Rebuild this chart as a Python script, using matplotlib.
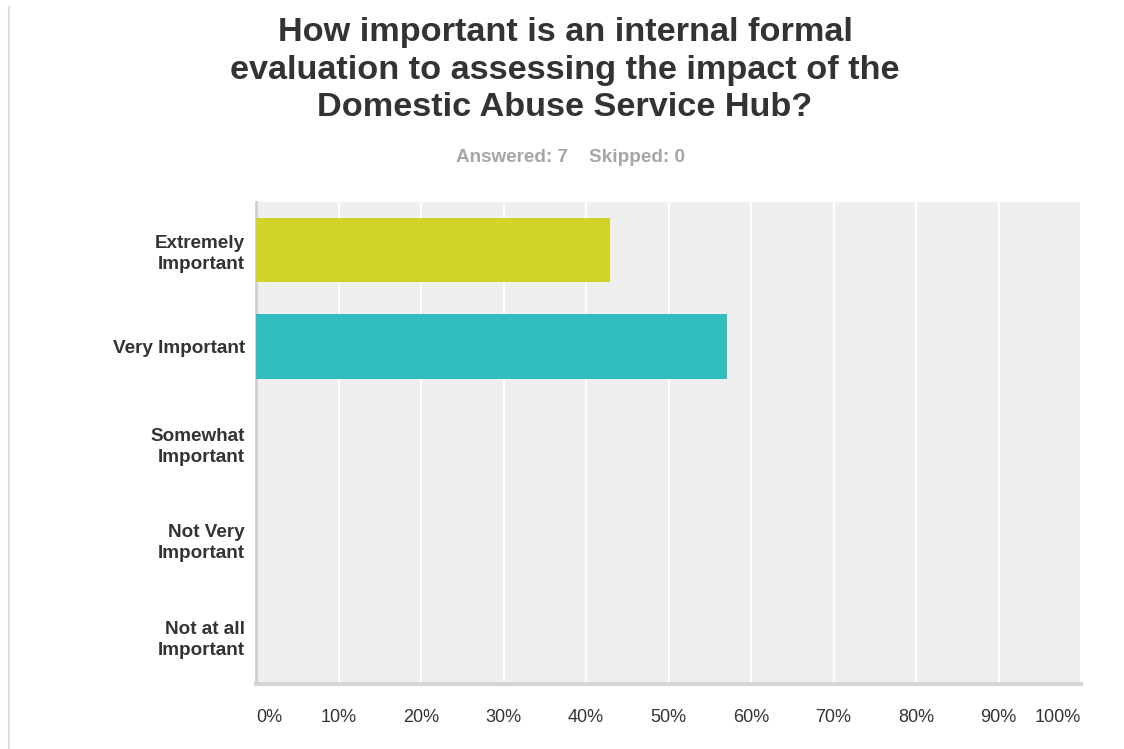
import matplotlib
matplotlib.use("Agg")
import matplotlib.pyplot as plt
from matplotlib.lines import Line2D

categories = ["Extremely\nImportant", "Very Important", "Somewhat\nImportant",
              "Not Very\nImportant", "Not at all\nImportant"]
values = [42.86, 57.14, 0, 0, 0]
colors = ["#cfd427", "#32bebe", "#f7882f", "#6c4f9e", "#e04b6a"]
ticks = [0, 10, 20, 30, 40, 50, 60, 70, 80, 90, 100]
tick_labels = [f"{t}%" for t in ticks]
title = "How important is an internal formal\nevaluation to assessing the impact of the\nDomestic Abuse Service Hub?"
subtitle = "Answered: 7    Skipped: 0"

plt.rcParams['font.family'] = ['Liberation Sans', 'DejaVu Sans']

W, H = 1124, 749
fig = plt.figure(figsize=(W / 100, H / 100), dpi=100)
fig.patch.set_facecolor("white")

# axes: x 256..1081, y 202..684 (pixels)
ax = fig.add_axes([256 / W, 1 - 684 / H, (1081 - 256) / W, (684 - 202) / H])
ax.set_facecolor("#efefef")
ypos = list(range(len(categories)))
ax.barh(ypos, values, height=0.67, color=colors, zorder=3)
ax.set_ylim(len(categories) - 0.5, -0.5)
ax.set_xlim(0, 100)
ax.set_xticks(ticks)
ax.grid(axis="x", color="white", linewidth=1.5, zorder=1)
ax.set_axisbelow(True)
for s in ["top", "right"]:
    ax.spines[s].set_visible(False)
ax.spines["left"].set_color("#cfcfcf")
ax.spines["left"].set_linewidth(2)
ax.spines["bottom"].set_color("#d6d6d6")
ax.spines["bottom"].set_linewidth(3)
ax.tick_params(axis="both", length=0)
ax.set_xticklabels(tick_labels, fontsize=13, color="#333333")
for i, lab in enumerate(ax.get_xticklabels()):
    if i == 0:
        lab.set_horizontalalignment("left")
    elif i == len(ticks) - 1:
        lab.set_horizontalalignment("right")
ax.tick_params(axis="x", pad=18)
ax.set_yticks(ypos)
ax.set_yticklabels(categories, fontsize=13.6, fontweight="bold", color="#333333",
                   linespacing=1.3)
ax.tick_params(axis="y", pad=8)

fig.text(565 / W, 1 - 70 / H, title, ha="center", va="center", fontsize=24.7,
         fontweight="bold", color="#333333", linespacing=1.27)
fig.text(570 / W, 1 - 157 / H, subtitle, ha="center", va="center", fontsize=13.6,
         fontweight="bold", color="#a6a6a6")

# left border line of the frame
fig.add_artist(Line2D([8.5 / W, 8.5 / W], [0, 1 - 7 / H], transform=fig.transFigure,
                      color="#dddddd", linewidth=1.5))

fig.savefig("out.png", dpi=100)
